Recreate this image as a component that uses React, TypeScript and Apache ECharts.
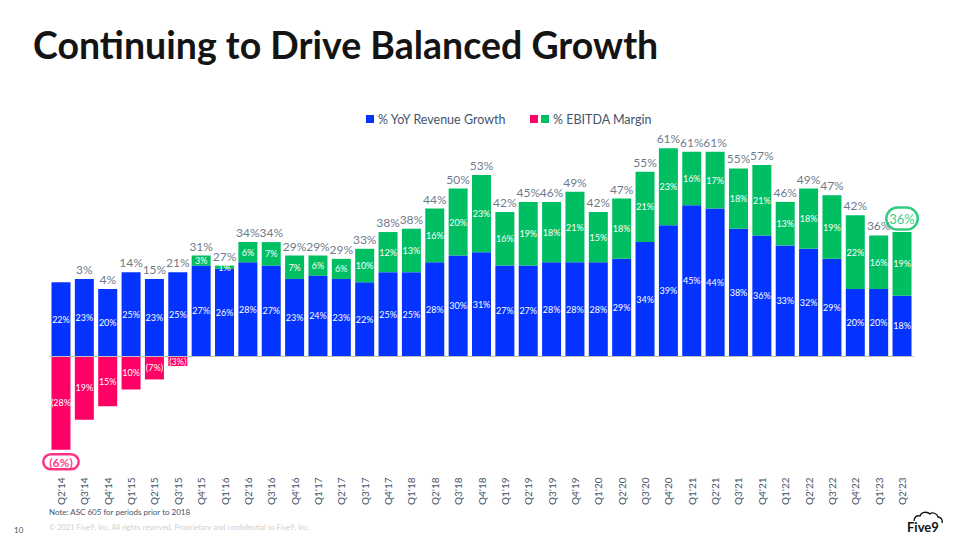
import React, { useEffect, useRef } from "react";
import * as echarts from "echarts";

const categories = [
  "Q2'14", "Q3'14", "Q4'14", "Q1'15", "Q2'15", "Q3'15", "Q4'15", "Q1'16", "Q2'16", "Q3'16",
  "Q4'16", "Q1'17", "Q2'17", "Q3'17", "Q4'17", "Q1'18", "Q2'18", "Q3'18", "Q4'18", "Q1'19",
  "Q2'19", "Q3'19", "Q4'19", "Q1'20", "Q2'20", "Q3'20", "Q4'20", "Q1'21", "Q2'21", "Q3'21",
  "Q4'21", "Q1'22", "Q2'22", "Q3'22", "Q4'22", "Q1'23", "Q2'23",
];

const revenueGrowth = [
  22, 23, 20, 25, 23, 25, 27, 26, 28, 27,
  23, 24, 23, 22, 25, 25, 28, 30, 31, 27,
  27, 28, 28, 28, 29, 34, 39, 45, 44, 38,
  36, 33, 32, 29, 20, 20, 18,
];

const ebitdaMargin = [
  -28, -19, -15, -10, -7, -3, 3, 1, 6, 7,
  7, 6, 6, 10, 12, 13, 16, 20, 23, 16,
  19, 18, 21, 15, 18, 21, 23, 16, 17, 18,
  21, 13, 18, 19, 22, 16, 19,
];

const ebitdaLabels = [
  "(28%", "19%", "15%", "10%", "(7%)", "(3%)", "3%", "1%", "6%", "7%",
  "7%", "6%", "6%", "10%", "12%", "13%", "16%", "20%", "23%", "16%",
  "19%", "18%", "21%", "15%", "18%", "21%", "23%", "16%", "17%", "18%",
  "21%", "13%", "18%", "19%", "22%", "16%", "19%",
];

const totalLabels = [
  "(6%)", "3%", "4%", "14%", "15%", "21%", "31%", "27%", "34%", "34%",
  "29%", "29%", "29%", "33%", "38%", "38%", "44%", "50%", "53%", "42%",
  "45%", "46%", "49%", "42%", "47%", "55%", "61%", "61%", "61%", "55%",
  "57%", "46%", "49%", "47%", "42%", "36%", "36%",
];

const BLUE = "#0433FF";
const GREEN = "#00BF63";
const PINK = "#FF0066";
const TEXT = "#44546A";
const FONT = "Lato, 'Open Sans', sans-serif";

const cloudPath =
  "M0 9 C0 5 3 3 6 4 C7 0 13 -1 16 2 C18 0 23 1 24 5 C27 5 29 8 28 11";

export default function App() {
  const ref = useRef<HTMLDivElement>(null);

  useEffect(() => {
    if (!ref.current) return;
    try {
      echarts.graphic.registerShape("cloud", echarts.graphic.extendPath(cloudPath, {}));
    } catch (e) {
      // ignore
    }
    const chart = echarts.init(ref.current, undefined, { renderer: "svg" });

    const lastIdx = categories.length - 1;
    const totalsData = categories.map((_, i) => {
      const r = revenueGrowth[i];
      const e = ebitdaMargin[i];
      if (i === 0) {
        return {
          value: e,
          label: {
            position: "bottom",
            distance: 4,
            color: PINK,
            fontWeight: "bold",
            borderColor: PINK,
            borderWidth: 2.5,
            borderRadius: 10,
            padding: [2, 6, 1, 6],
          },
        };
      }
      const v = r + Math.max(e, 0);
      if (i === lastIdx) {
        return {
          value: v,
          label: {
            color: GREEN,
            fontSize: 13,
            distance: 2,
            borderColor: GREEN,
            borderWidth: 2.5,
            borderRadius: 12,
            padding: [5, 3, 4, 3],
          },
        };
      }
      return { value: v };
    });

    const option: any = {
      animation: false,
      textStyle: { fontFamily: FONT },
      grid: { left: 49.3, right: 46.3, top: 121.5, bottom: 83.5, containLabel: false },
      xAxis: {
        type: "category",
        data: categories,
        axisLine: { show: false },
        axisTick: { show: false },
        axisLabel: {
          rotate: 90,
          margin: 21,
          interval: 0,
          fontSize: 10,
          color: TEXT,
          fontFamily: FONT,
        },
      },
      yAxis: { type: "value", min: -30, max: 70, show: false },
      series: [
        {
          name: "% YoY Revenue Growth",
          type: "bar",
          stack: "t",
          barWidth: 19,
          data: revenueGrowth,
          itemStyle: { color: BLUE },
          label: {
            show: true,
            position: "inside",
            color: "#ffffff",
            fontSize: 9,
            fontFamily: FONT,
            formatter: (p: any) => p.value + "%",
          },
          markLine: {
            silent: true,
            symbol: "none",
            label: { show: false },
            lineStyle: { color: "#BFBFBF", width: 1, type: "solid" },
            data: [{ yAxis: 0 }],
          },
        },
        {
          name: "% EBITDA Margin",
          type: "bar",
          stack: "t",
          barWidth: 19,
          data: ebitdaMargin.map((v) => ({
            value: v,
            itemStyle: { color: v < 0 ? PINK : GREEN },
          })),
          label: {
            show: true,
            position: "inside",
            color: "#ffffff",
            fontSize: 9,
            fontFamily: FONT,
            formatter: (p: any) => ebitdaLabels[p.dataIndex],
          },
        },
        {
          name: "totals",
          type: "scatter",
          symbolSize: 1,
          itemStyle: { color: "transparent" },
          z: 5,
          data: totalsData,
          label: {
            show: true,
            position: "top",
            distance: 3,
            fontSize: 12,
            color: TEXT,
            fontFamily: FONT,
            formatter: (p: any) => totalLabels[p.dataIndex],
          },
        },
      ],
      graphic: [
        {
          type: "text",
          left: 33,
          top: 25,
          style: {
            text: "Continuing to Drive Balanced Growth",
            fontSize: 37.5,
            fontWeight: "bold",
            fontFamily: FONT,
            fill: "#141414",
          },
        },
        { type: "rect", shape: { x: 366, y: 115, width: 8, height: 8 }, style: { fill: BLUE } },
        {
          type: "text",
          x: 378,
          y: 119,
          style: {
            text: "% YoY Revenue Growth",
            fontSize: 12.5,
            fontFamily: FONT,
            fill: TEXT,
            verticalAlign: "middle",
          },
        },
        { type: "rect", shape: { x: 530, y: 115, width: 8, height: 8 }, style: { fill: PINK } },
        { type: "rect", shape: { x: 541, y: 115, width: 8, height: 8 }, style: { fill: GREEN } },
        {
          type: "text",
          x: 553,
          y: 119,
          style: {
            text: "% EBITDA Margin",
            fontSize: 12.5,
            fontFamily: FONT,
            fill: TEXT,
            verticalAlign: "middle",
          },
        },
        {
          type: "text",
          x: 49,
          y: 512,
          style: {
            text: "Note: ASC 605 for periods prior to 2018",
            fontSize: 8,
            fontFamily: FONT,
            fill: TEXT,
            verticalAlign: "middle",
          },
        },
        {
          type: "text",
          x: 49,
          y: 527,
          style: {
            text: "© 2021 Five9, Inc. All rights reserved. Proprietary and confidential to Five9, Inc.",
            fontSize: 7.5,
            fontFamily: FONT,
            fill: "#D0D0D0",
            verticalAlign: "middle",
          },
        },
        {
          type: "text",
          x: 14,
          y: 530,
          style: {
            text: "10",
            fontSize: 8,
            fontFamily: FONT,
            fill: TEXT,
            verticalAlign: "middle",
          },
        },
        {
          type: "cloud",
          x: 914,
          y: 512,
          scaleX: 1,
          scaleY: 1,
          style: { fill: "none", stroke: "#111", lineWidth: 1.3 },
        },
        {
          type: "text",
          x: 907,
          y: 527,
          style: {
            text: "Five9",
            fontSize: 13,
            fontWeight: "bold",
            fontFamily: FONT,
            fill: "#111",
            verticalAlign: "middle",
          },
        },
      ],
    };

    chart.setOption(option);
    return () => chart.dispose();
  }, []);

  return <div ref={ref} style={{ width: 960, height: 540, position: "absolute", left: 0, top: 0 }} />;
}
